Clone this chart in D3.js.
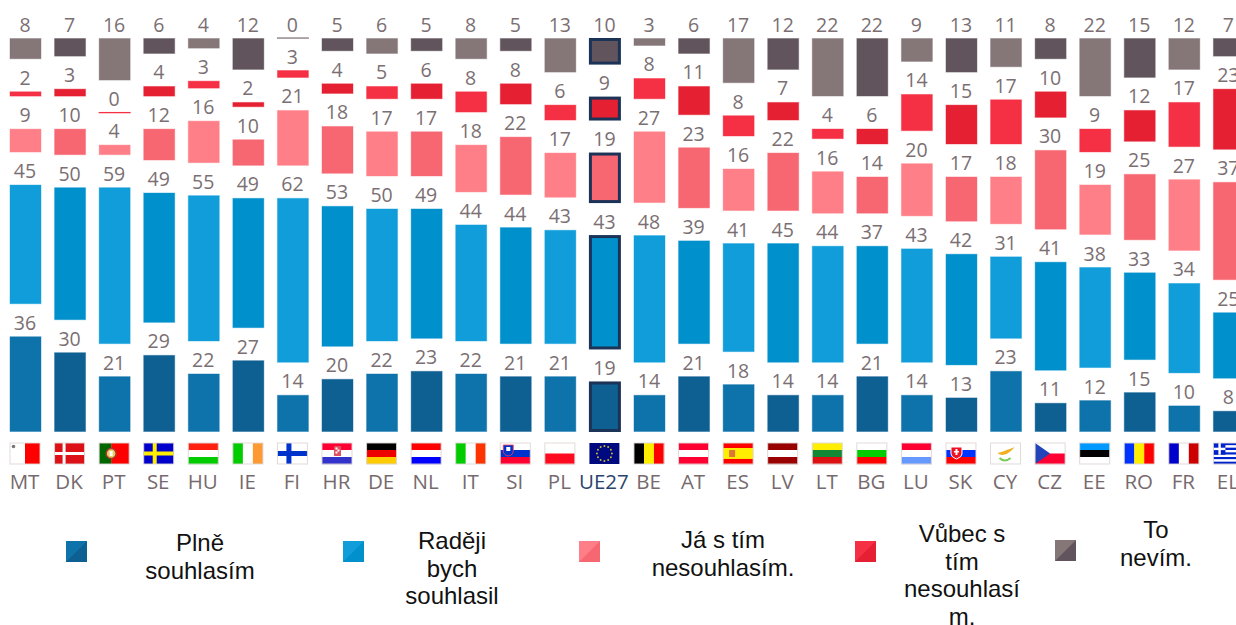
<!DOCTYPE html>
<html><head><meta charset="utf-8">
<script src="https://cdn.jsdelivr.net/npm/d3@7"></script>
<style>html,body{margin:0;padding:0;background:#fff;overflow:hidden}svg{display:block}</style>
</head><body><svg id="c" width="1236" height="625"></svg>
<script>
const countries=["MT","DK","PT","SE","HU","IE","FI","HR","DE","NL","IT","SI","PL","UE27","BE","AT","ES","LV","LT","BG","LU","SK","CY","CZ","EE","RO","FR","EL"];
const plne=[36,30,21,29,22,27,14,20,22,23,22,21,21,19,14,21,18,14,14,21,14,13,23,11,12,15,10,8];
const radeji=[45,50,59,49,55,49,62,53,50,49,44,44,43,43,48,39,41,45,44,37,43,42,31,41,38,33,34,25];
const nesouhlas=[9,10,4,12,16,10,21,18,17,17,18,22,17,19,27,23,16,22,16,14,20,17,18,30,19,25,27,37];
const vubec=[2,3,0,4,3,2,3,4,5,6,8,8,6,9,8,11,8,7,4,6,14,15,17,10,9,12,17,23];
const nevim=[8,7,16,6,4,12,0,5,6,5,8,5,13,10,3,6,17,12,22,22,9,13,11,8,22,15,12,7];
const seriesValues=[plne,radeji,nesouhlas,vubec,nevim];
const lightColors=["#0f73ab","#109dd9","#ff7f88","#f52f44","#857678"];
const darkColors=["#0e5f92","#0090cc","#f76772","#e52033","#61545c"];
const legendLines=[["Plně","souhlasím"],["Raději","bych","souhlasil"],["Já s tím","nesouhlasím."],["Vůbec s","tím","nesouhlasí","m."],["To","nevím."]];
const highlight="UE27";

const svg=d3.select("#c");
const stepX=44.57, padRatio=12.57/44.57;
const x=d3.scaleBand().domain(countries).range([9.5,9.5+stepX*countries.length])
  .paddingInner(padRatio).paddingOuter(padRatio/2).align(0);
const bw=x.bandwidth();
const h=d3.scaleLinear().domain([0,100]).range([0,266]);
const baseY=432, gap=32;

// bars
const gBars=svg.append("g"), gLab=svg.append("g");
countries.forEach((c,i)=>{
  let cum=baseY;
  seriesValues.forEach((vals,s)=>{
    const v=vals[i], ht=h(v), top=cum-ht;
    const col=(i%2===0?lightColors:darkColors)[s];
    if(v===0){
      gBars.append("rect").attr("x",x(c)).attr("y",top-0.6).attr("width",bw).attr("height",1.3).attr("fill",col);
    } else if(c===highlight){
      gBars.append("rect").attr("x",x(c)+1.5).attr("y",top+1.5).attr("width",bw-3).attr("height",ht-3)
        .attr("fill",col).attr("stroke","#1c3358").attr("stroke-width",3);
    } else {
      gBars.append("rect").attr("x",x(c)+.5).attr("y",top+.5).attr("width",bw-1).attr("height",Math.max(ht-1,1))
        .attr("fill",col).attr("stroke",col).attr("stroke-opacity",.4).attr("stroke-width",1);
    }
    gLab.append("text").attr("x",x(c)+bw/2-0.5).attr("y",top-6.5).attr("text-anchor","middle")
      .attr("font-family","'Open Sans'").attr("font-size",19.5).attr("fill","#7b6f73").text(v);
    cum=top-gap;
  });
});

// flags
const W=30,H=21;
function hs(cols){return g=>cols.forEach((k,i)=>{if(k)g.append("rect").attr("x",0).attr("y",i*H/cols.length).attr("width",W).attr("height",H/cols.length+.2).attr("fill",k)})}
function vs(cols){return g=>cols.forEach((k,i)=>{if(k)g.append("rect").attr("x",i*W/cols.length).attr("y",0).attr("width",W/cols.length+.2).attr("height",H).attr("fill",k)})}
const R=(g,x,y,w,ht,f)=>g.append("rect").attr("x",x).attr("y",y).attr("width",w).attr("height",ht).attr("fill",f);
const flags={
 MT:g=>{R(g,15,0,15,H,"#ff0000");g.append("circle").attr("cx",3.5).attr("cy",3.5).attr("r",1.8).attr("fill","#777")},
 DK:g=>{R(g,0,0,W,H,"#dd1018");R(g,8,0,3,H,"#fff");R(g,0,9,W,3,"#fff")},
 PT:g=>{R(g,12,0,18,H,"#ff0000");R(g,0,0,12,H,"#006600");g.append("circle").attr("cx",12).attr("cy",10.5).attr("r",5).attr("fill","#e8d060").attr("stroke","#a33").attr("stroke-width",1.5);R(g,10.5,8,3,5,"#fff")},
 SE:g=>{R(g,0,0,W,H,"#0000cc");R(g,9,0,4,H,"#ffee00");R(g,0,8.5,W,4,"#ffee00")},
 HU:hs(["#ff2010","#fff","#00cc00"]),
 IE:vs(["#00cc00","#fff","#ff9933"]),
 FI:g=>{R(g,9,0,5,H,"#0033cc");R(g,0,8,W,5,"#0033cc")},
 HR:g=>{hs(["#ff0033","#fff","#3333cc"])(g);R(g,12,3,7,10,"#e05060");R(g,13.5,4.5,2,2,"#fff");R(g,15.5,6.5,2,2,"#fff");R(g,13.5,8.5,2,2,"#fff")},
 DE:hs(["#000000","#ee0000","#ffcc00"]),
 NL:hs(["#ff0000","#fff","#0000ff"]),
 IT:vs(["#00cc00","#fff","#ff3300"]),
 SI:g=>{hs(["#fff","#0033cc","#ff0033"])(g);g.append("path").attr("d","M3 2h10v6q0 4-5 5q-5-1-5-5z").attr("fill","#0033cc").attr("stroke","#ff4050").attr("stroke-width",.8);R(g,6,4,4,4,"#fff")},
 PL:hs(["#fff","#ff0a1e"]),
 UE27:g=>{R(g,0,0,W,H,"#000a80");d3.range(12).forEach(k=>{const a=k*Math.PI/6;g.append("circle").attr("cx",15+7.5*Math.cos(a)).attr("cy",10.5+7.5*Math.sin(a)).attr("r",1).attr("fill","#c8b830")})},
 BE:vs(["#000000","#ffee00","#ff0000"]),
 AT:hs(["#ff0033","#fff","#ff0033"]),
 ES:g=>{hs(["#ff0000","#ffee00","#ffee00","#ff0000"])(g);R(g,0,5.2,W,10.6,"#ffee00");R(g,6,7,6,7,"#dd7733")},
 LV:hs(["#990000","#fff","#990000"]),
 LT:hs(["#ffee00","#118833","#dd1111"]),
 BG:hs(["#fff","#00cc00","#ff0000"]),
 LU:hs(["#ff0033","#fff","#6699ff"]),
 SK:g=>{hs(["#fff","#0033ff","#ff0000"])(g);g.append("path").attr("d","M5 4h11v7q0 3-5.500 5q-5.500-2-5.500-5z").attr("fill","#ee1122").attr("stroke","#fff").attr("stroke-width",1);R(g,9.5,6,2,6,"#fff");R(g,8,8,5,1.5,"#fff")},
 CY:g=>{g.append("path").attr("d","M7 10q5-1 9-3q4-1 8-3q-2 3-5 5q-3 3-7 3q-3 0-5-2z").attr("fill","#f2b020");g.append("path").attr("d","M9 15q5 5 11 0").attr("fill","none").attr("stroke","#77cc55").attr("stroke-width",2)},
 CZ:g=>{hs(["#fff","#ff0033"])(g);g.append("path").attr("d","M0 0L15 10.500L0 21Z").attr("fill","#2244bb")},
 EE:hs(["#0099ff","#000000","#fff"]),
 RO:vs(["#0033ff","#ffee00","#ff0000"]),
 FR:vs(["#0000cc","#fff","#cc0000"]),
 EL:g=>{d3.range(9).forEach(k=>R(g,0,k*H/9,W,H/9+.1,k%2?"#fff":"#0022cc"));R(g,0,0,12,11.7,"#0022cc");R(g,5,0,2.4,11.7,"#fff");R(g,0,4.7,12,2.4,"#fff")}
};
countries.forEach(c=>{
  const g=svg.append("g").attr("transform",`translate(${x(c)+0.5},443)`);
  R(g,0,0,W,H,"#fff");
  flags[c](g);
  g.append("rect").attr("x",0).attr("y",0).attr("width",W).attr("height",H).attr("fill","none").attr("stroke","#ddd6d4").attr("stroke-width",1).attr("opacity",c==="UE27"?0:.9);
  svg.append("text").attr("x",x(c)+bw/2-1).attr("y",489).attr("text-anchor","middle")
    .attr("font-family","'Open Sans'").attr("font-size",20.5).attr("fill",c===highlight?"#2a4470":"#766a6e").text(c);
});

// legend
const legSquareX=[66,343,579,855,1055], legSquareY=[541,541,541,541,540];
const legTextX=[200,452,723,962,1156], legFirstBase=[551,549,548,542,538];
seriesValues.forEach((_,s)=>{
  const sx=legSquareX[s], sy=legSquareY[s], sz=21;
  R(svg,sx,sy,sz,sz,darkColors[s]);
  svg.append("path").attr("d",`M${sx} ${sy}h${sz}L${sx} ${sy+sz}z`).attr("fill",lightColors[s]);
  const t=svg.append("text").attr("font-family","'Liberation Sans'").attr("font-size",24).attr("fill","#111").attr("text-anchor","middle").attr("textLength",null);
  legendLines[s].forEach((l,k)=>t.append("tspan").attr("x",legTextX[s]).attr("y",legFirstBase[s]+k*27.6).text(l));
});
</script></body></html>
